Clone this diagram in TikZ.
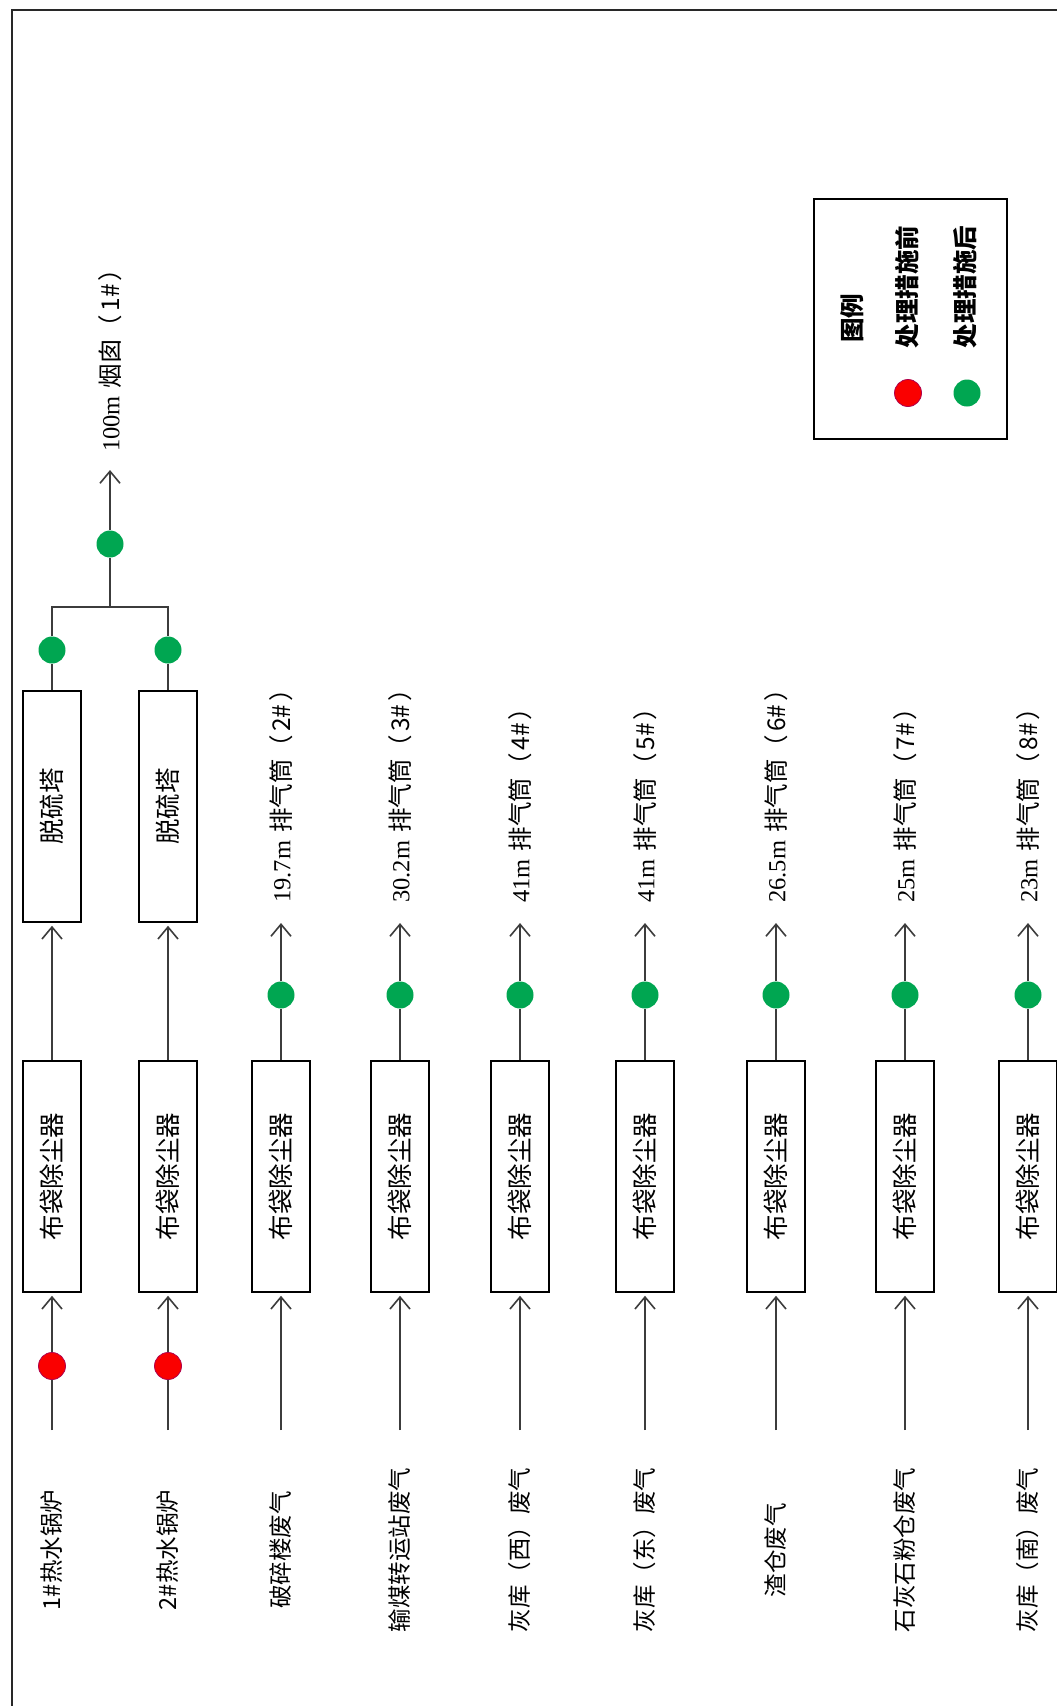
\documentclass[tikz,border=0pt]{standalone}
\usepackage{fontspec}
\setmainfont{Liberation Serif}
\newfontfamily\cjk{Noto Sans CJK SC}
\usetikzlibrary{arrows.meta}
\definecolor{okgreen}{RGB}{0,166,81}
\definecolor{badred}{RGB}{250,0,0}
\definecolor{linegray}{RGB}{60,60,60}
\definecolor{framegray}{RGB}{40,40,40}
\newcommand\cjkfs{\cjk\fontsize{23.5}{28}\selectfont}
\newcommand\boxfs{\cjk\fontsize{25.5}{28}\selectfont}
\newcommand\stkfs{\cjk\fontsize{24.5}{28}\selectfont}
\newcommand\legfs{\cjk\bfseries\fontsize{24.5}{28}\selectfont}
\tikzset{
  lineC/.style={draw=linegray, line width=1.6pt},
  flow/.style={lineC, -{Straight Barb[length=12pt,width=20pt,line width=1.6pt]}, shorten >=3pt},
  box/.style={draw=black, line width=1.5pt, fill=white, rotate=90, minimum width=231pt, minimum height=58pt, inner sep=0pt, font=\boxfs},
  gd/.style={circle, fill=okgreen, minimum size=27pt, inner sep=0pt},
  rd/.style={circle, fill=badred, draw=badred!70!blue, line width=0.8pt, minimum size=27pt, inner sep=0pt},
  lbl/.style={rotate=90, inner sep=0pt, font=\cjkfs},
  stk/.style={rotate=90, inner sep=0pt, font=\stkfs, anchor=west},
  legtxt/.style={rotate=90, inner sep=0pt, font=\legfs},
}
\begin{document}
\begin{tikzpicture}[x=1pt,y=-1pt]
\useasboundingbox (0,0) rectangle (1057,1706);
\fill[white] (0,0) rectangle (1057,1706);
\draw[line width=2pt, draw=framegray] (12,1720) -- (12,10) -- (1070,10);

% boilers 1 and 2
\node[box] (b1) at (52,1176.5) {布袋除尘器};
\node[box] (b2) at (168,1176.5) {布袋除尘器};
\node[box] (t1) at (52,806.5) {脱硫塔};
\node[box] (t2) at (168,806.5) {脱硫塔};
\node[lbl] (s1) at (52,1550) {1\#热水锅炉};
\node[lbl] (s2) at (168,1550) {2\#热水锅炉};
\coordinate (in1) at (52,1430);
\coordinate (in2) at (168,1430);
\node[rd] (r1) at (52,1366) {};
\node[rd] (r2) at (168,1366) {};
\draw[flow] (in1) -- (r1) -- (b1.west);
\draw[flow] (in2) -- (r2) -- (b2.west);
\draw[flow] (b1.east) -- (t1.west);
\draw[flow] (b2.east) -- (t2.west);
\node[gd] (g1) at (52,650) {};
\node[gd] (g2) at (168,650) {};
\coordinate (j1) at (52,607);
\coordinate (j2) at (168,607);
\coordinate (jm) at (110,607);
\draw[lineC] (t1.east) -- (g1) -- (j1) -- (j2) -- (g2) -- (t2.east);
\node[gd] (g0) at (110,544) {};
\node[stk] (k0) at (110,452) {{\rmfamily 100m}\hspace{8pt}烟囱（\hspace{3pt}1\#\hspace{3pt}）};
\draw[lineC] (jm) -- (g0);
\draw[flow, shorten >=0pt] (g0) -- ([yshift=-18pt]k0.west);

% other sources
\foreach \i/\x/\src/\len/\num in {3/281/破碎楼废气/19.7m/2, 4/400/输煤转运站废气/30.2m/3, 5/520/灰库（西）废气/41m/4, 6/645/灰库（东）废气/41m/5, 7/776/渣仓废气/26.5m/6, 8/905/石灰石粉仓废气/25m/7, 9/1028/灰库（南）废气/23m/8}{
  \node[box] (b\i) at (\x,1176.5) {布袋除尘器};
  \node[lbl] (s\i) at (\x,1550) {\src};
  \coordinate (in\i) at (\x,1430);
  \draw[flow] (in\i) -- (b\i.west);
  \node[gd] (g\i) at (\x,995) {};
  \node[stk] (k\i) at (\x,903) {{\rmfamily\len}\hspace{8pt}排气筒（\hspace{3pt}\num\#\hspace{3pt}）};
  \draw[lineC] (b\i.east) -- (g\i);
  \draw[flow, shorten >=0pt] (g\i) -- ([yshift=-20pt]k\i.west);
}

% legend
\node[draw=black, line width=1.5pt, minimum width=193pt, minimum height=240pt, inner sep=0pt] (leg) at (910.5,319) {};
\node[legtxt] (lt) at (852,318) {图例};
\node[legtxt] (l1) at (907,287) {处理措施前};
\node[legtxt] (l2) at (965,287) {处理措施后};
\node[rd] (lr) at (908,393) {};
\node[gd] (lg) at (967,393) {};
\end{tikzpicture}
\end{document}
